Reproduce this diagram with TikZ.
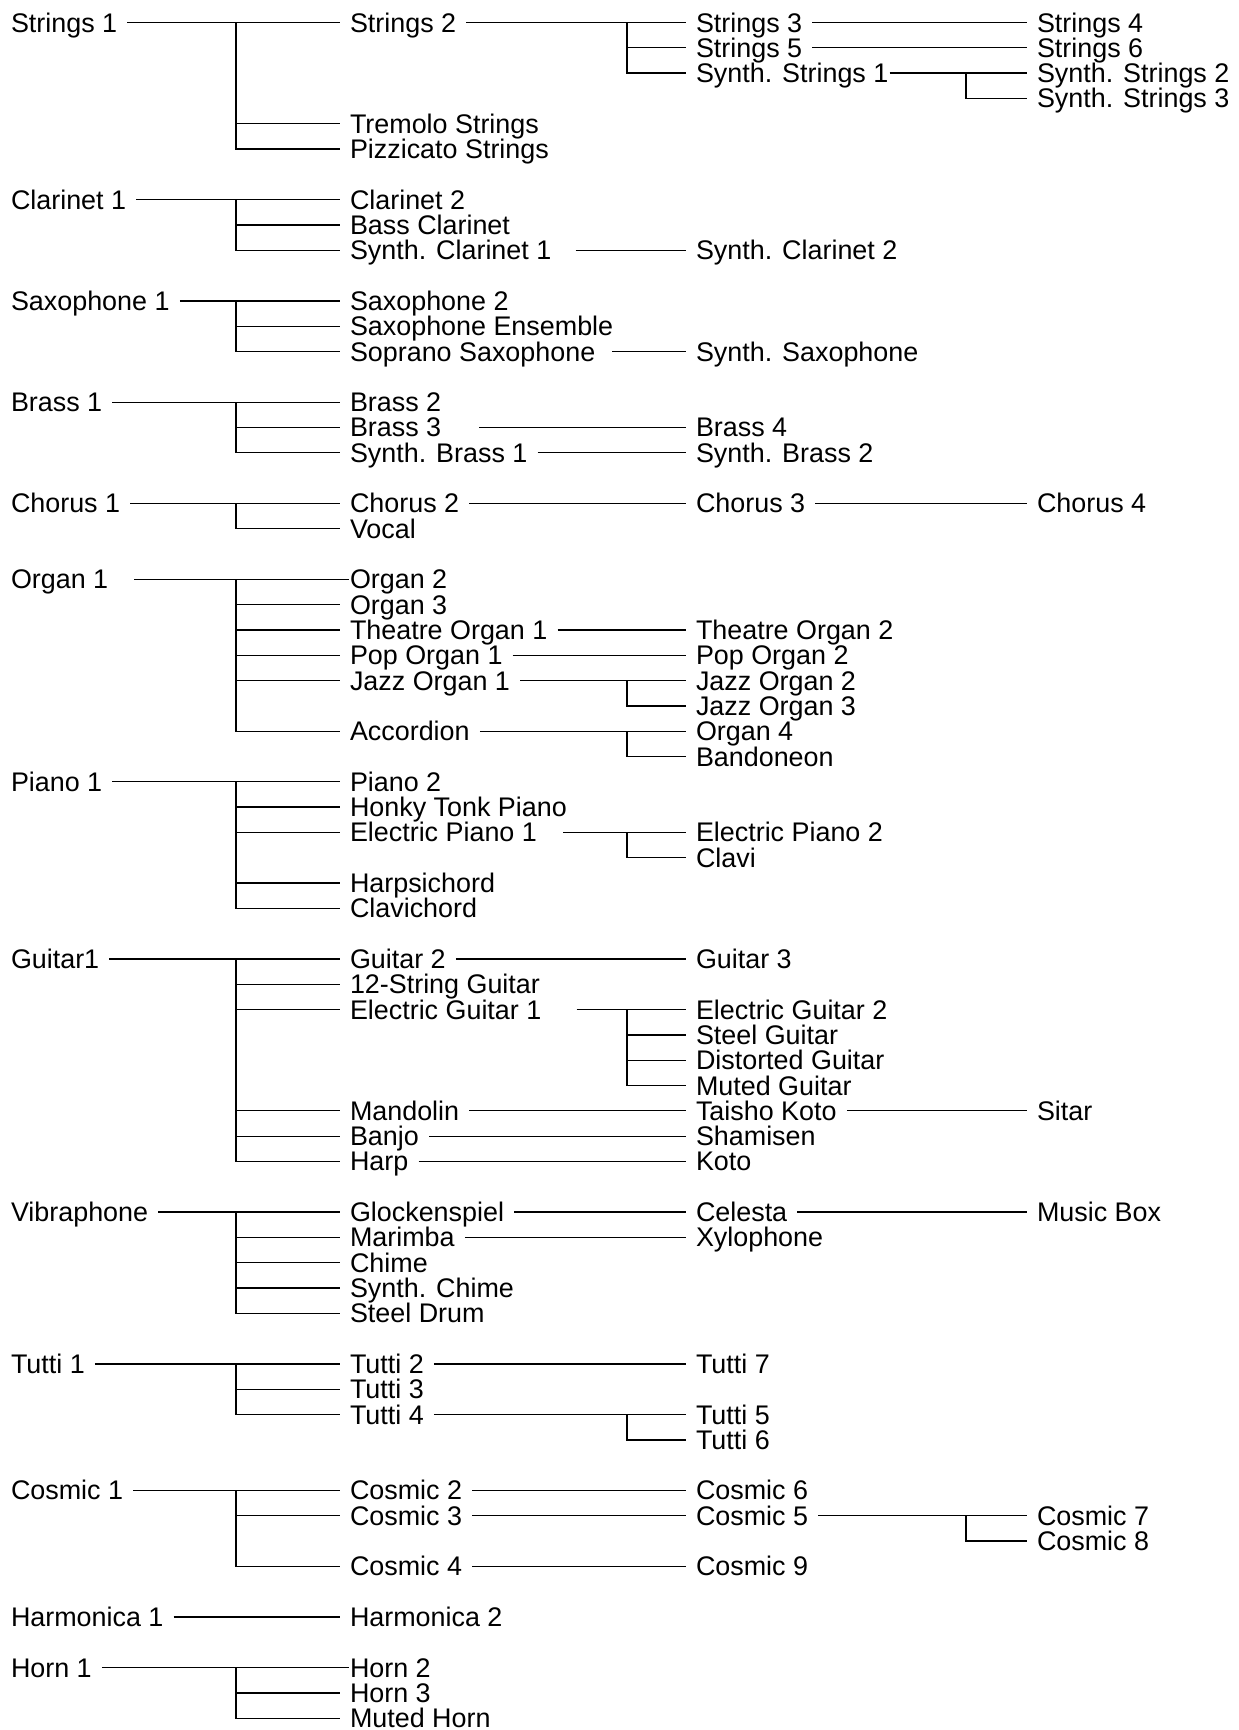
\documentclass[tikz,border=0pt]{standalone}
\usepackage{fontspec}
\setmainfont{Liberation Sans}
\tikzset{
  lbl/.style={anchor=text, inner xsep=10pt, inner ysep=0pt, text height=19pt, text depth=0pt,
    font=\fontsize{26.9}{30}\selectfont},
  ln/.style={draw=black, line width=1.3pt}
}
\newcommand\inode[4]{\node[lbl] (#1) at (#2,{32+25.31*#3}) {#4};}
\newcommand\tree[4]{\draw[ln] (#2.east) -- (#3.west);
  \foreach \kid in {#4}{\draw[ln] (#2.east -| #1) |- (\kid.west);}}
\begin{document}
\begin{tikzpicture}[x=1pt,y=-1pt]
\fill[white] (0,0) rectangle (1239,1730);
\useasboundingbox (0,0) rectangle (1239,1730);
\coordinate (xa) at (236,0);
\coordinate (xb) at (627,0);
\coordinate (xc) at (966,0);
% column A
\inode{s1}{11}{0}{Strings 1}
\inode{cl1}{11}{7}{Clarinet 1}
\inode{sx1}{11}{11}{Saxophone 1}
\inode{br1}{11}{15}{Brass 1}
\inode{ch1}{11}{19}{Chorus 1}
\inode{or1}{11}{22}{Organ 1}
\inode{pi1}{11}{30}{Piano 1}
\inode{gu1}{11}{37}{Guitar1}
\inode{vib}{11}{47}{Vibraphone}
\inode{tu1}{11}{53}{Tutti 1}
\inode{co1}{11}{58}{Cosmic 1}
\inode{ha1}{11}{63}{Harmonica 1}
\inode{ho1}{11}{65}{Horn 1}
% column B
\inode{s2}{350}{0}{Strings 2}
\inode{trem}{350}{4}{Tremolo Strings}
\inode{pizz}{350}{5}{Pizzicato Strings}
\inode{cl2}{350}{7}{Clarinet 2}
\inode{bcl}{350}{8}{Bass Clarinet}
\inode{scl1}{350}{9}{Synth. Clarinet 1}
\inode{sx2}{350}{11}{Saxophone 2}
\inode{sxe}{350}{12}{Saxophone Ensemble}
\inode{ssx}{350}{13}{Soprano Saxophone}
\inode{br2}{350}{15}{Brass 2}
\inode{br3}{350}{16}{Brass 3}
\inode{sbr1}{350}{17}{Synth. Brass 1}
\inode{ch2}{350}{19}{Chorus 2}
\inode{voc}{350}{20}{Vocal}
\inode{or2}{350}{22}{Organ 2}
\inode{or3}{350}{23}{Organ 3}
\inode{tor1}{350}{24}{Theatre Organ 1}
\inode{por1}{350}{25}{Pop Organ 1}
\inode{jor1}{350}{26}{Jazz Organ 1}
\inode{acc}{350}{28}{Accordion}
\inode{pi2}{350}{30}{Piano 2}
\inode{hon}{350}{31}{Honky Tonk Piano}
\inode{ep1}{350}{32}{Electric Piano 1}
\inode{hps}{350}{34}{Harpsichord}
\inode{clv}{350}{35}{Clavichord}
\inode{gu2}{350}{37}{Guitar 2}
\inode{g12}{350}{38}{12-String Guitar}
\inode{eg1}{350}{39}{Electric Guitar 1}
\inode{man}{350}{43}{Mandolin}
\inode{ban}{350}{44}{Banjo}
\inode{hrp}{350}{45}{Harp}
\inode{glo}{350}{47}{Glockenspiel}
\inode{mar}{350}{48}{Marimba}
\inode{chi}{350}{49}{Chime}
\inode{sch}{350}{50}{Synth. Chime}
\inode{std}{350}{51}{Steel Drum}
\inode{tu2}{350}{53}{Tutti 2}
\inode{tu3}{350}{54}{Tutti 3}
\inode{tu4}{350}{55}{Tutti 4}
\inode{co2}{350}{58}{Cosmic 2}
\inode{co3}{350}{59}{Cosmic 3}
\inode{co4}{350}{61}{Cosmic 4}
\inode{ha2}{350}{63}{Harmonica 2}
\inode{ho2}{350}{65}{Horn 2}
\inode{ho3}{350}{66}{Horn 3}
\inode{mho}{350}{67}{Muted Horn}
% column C
\inode{s3}{696}{0}{Strings 3}
\inode{s5}{696}{1}{Strings 5}
\inode{ss1}{696}{2}{Synth. Strings 1}
\inode{scl2}{696}{9}{Synth. Clarinet 2}
\inode{ssxs}{696}{13}{Synth. Saxophone}
\inode{br4}{696}{16}{Brass 4}
\inode{sbr2}{696}{17}{Synth. Brass 2}
\inode{ch3}{696}{19}{Chorus 3}
\inode{tor2}{696}{24}{Theatre Organ 2}
\inode{por2}{696}{25}{Pop Organ 2}
\inode{jor2}{696}{26}{Jazz Organ 2}
\inode{jor3}{696}{27}{Jazz Organ 3}
\inode{or4}{696}{28}{Organ 4}
\inode{band}{696}{29}{Bandoneon}
\inode{ep2}{696}{32}{Electric Piano 2}
\inode{clavi}{696}{33}{Clavi}
\inode{gu3}{696}{37}{Guitar 3}
\inode{eg2}{696}{39}{Electric Guitar 2}
\inode{stg}{696}{40}{Steel Guitar}
\inode{dsg}{696}{41}{Distorted Guitar}
\inode{mtg}{696}{42}{Muted Guitar}
\inode{tko}{696}{43}{Taisho Koto}
\inode{sha}{696}{44}{Shamisen}
\inode{kot}{696}{45}{Koto}
\inode{cel}{696}{47}{Celesta}
\inode{xyl}{696}{48}{Xylophone}
\inode{tu7}{696}{53}{Tutti 7}
\inode{tu5}{696}{55}{Tutti 5}
\inode{tu6}{696}{56}{Tutti 6}
\inode{co6}{696}{58}{Cosmic 6}
\inode{co5}{696}{59}{Cosmic 5}
\inode{co9}{696}{61}{Cosmic 9}
% column D
\inode{s4}{1037}{0}{Strings 4}
\inode{s6}{1037}{1}{Strings 6}
\inode{ss2}{1037}{2}{Synth. Strings 2}
\inode{ss3}{1037}{3}{Synth. Strings 3}
\inode{ch4}{1037}{19}{Chorus 4}
\inode{sit}{1037}{43}{Sitar}
\inode{mbx}{1037}{47}{Music Box}
\inode{co7}{1037}{59}{Cosmic 7}
\inode{co8}{1037}{60}{Cosmic 8}
% first-level brackets
\tree{xa}{s1}{s2}{trem,pizz}
\tree{xa}{cl1}{cl2}{bcl,scl1}
\tree{xa}{sx1}{sx2}{sxe,ssx}
\tree{xa}{br1}{br2}{br3,sbr1}
\tree{xa}{ch1}{ch2}{voc}
\draw[ln] ([xshift=16pt]or1.east) -- ([xshift=9pt]or2.west);
\foreach \kid in {or3,tor1,por1,jor1,acc}{\draw[ln] (or1.east -| xa) |- (\kid.west);}
\tree{xa}{pi1}{pi2}{hon,ep1,hps,clv}
\tree{xa}{gu1}{gu2}{g12,eg1,man,ban,hrp}
\tree{xa}{vib}{glo}{mar,chi,sch,std}
\tree{xa}{tu1}{tu2}{tu3,tu4}
\tree{xa}{co1}{co2}{co3,co4}
\draw[ln] (ho1.east) -- ([xshift=9pt]ho2.west);
\foreach \kid in {ho3,mho}{\draw[ln] (ho1.east -| xa) |- (\kid.west);}
\draw[ln] (ha1.east) -- (ha2.west);
% second-level brackets
\tree{xb}{s2}{s3}{s5,ss1}
\tree{xb}{jor1}{jor2}{jor3}
\tree{xb}{acc}{or4}{band}
\draw[ln] ([xshift=16pt]ep1.east) -- (ep2.west);
\draw[ln] (ep1.east -| xb) |- (clavi.west);
\draw[ln] ([xshift=25pt]eg1.east) -- (eg2.west);
\foreach \kid in {stg,dsg,mtg}{\draw[ln] (eg1.east -| xb) |- (\kid.west);}
\tree{xb}{tu4}{tu5}{tu6}
% third-level brackets
\draw[ln] ([xshift=-9pt]ss1.east) -- (ss2.west);
\draw[ln] (ss1.east -| xc) |- (ss3.west);
\tree{xc}{co5}{co7}{co8}
% direct links
\draw[ln] ([xshift=14pt]scl1.east) -- (scl2.west);
\draw[ln] ([xshift=7pt]ssx.east) -- (ssxs.west);
\draw[ln] ([xshift=28pt]br3.east) -- (br4.west);
\draw[ln] (sbr1.east) -- (sbr2.west);
\draw[ln] (ch2.east) -- (ch3.west);
\draw[ln] (ch3.east) -- (ch4.west);
\draw[ln] (tor1.east) -- (tor2.west);
\draw[ln] (por1.east) -- (por2.west);
\draw[ln] (gu2.east) -- (gu3.west);
\draw[ln] (man.east) -- (tko.west);
\draw[ln] (tko.east) -- (sit.west);
\draw[ln] (ban.east) -- (sha.west);
\draw[ln] (hrp.east) -- (kot.west);
\draw[ln] (glo.east) -- (cel.west);
\draw[ln] (cel.east) -- (mbx.west);
\draw[ln] (mar.east) -- (xyl.west);
\draw[ln] (tu2.east) -- (tu7.west);
\draw[ln] (co2.east) -- (co6.west);
\draw[ln] (co3.east) -- (co5.west);
\draw[ln] (co4.east) -- (co9.west);
\draw[ln] (s3.east) -- (s4.west);
\draw[ln] (s5.east) -- (s6.west);
\end{tikzpicture}
\end{document}
